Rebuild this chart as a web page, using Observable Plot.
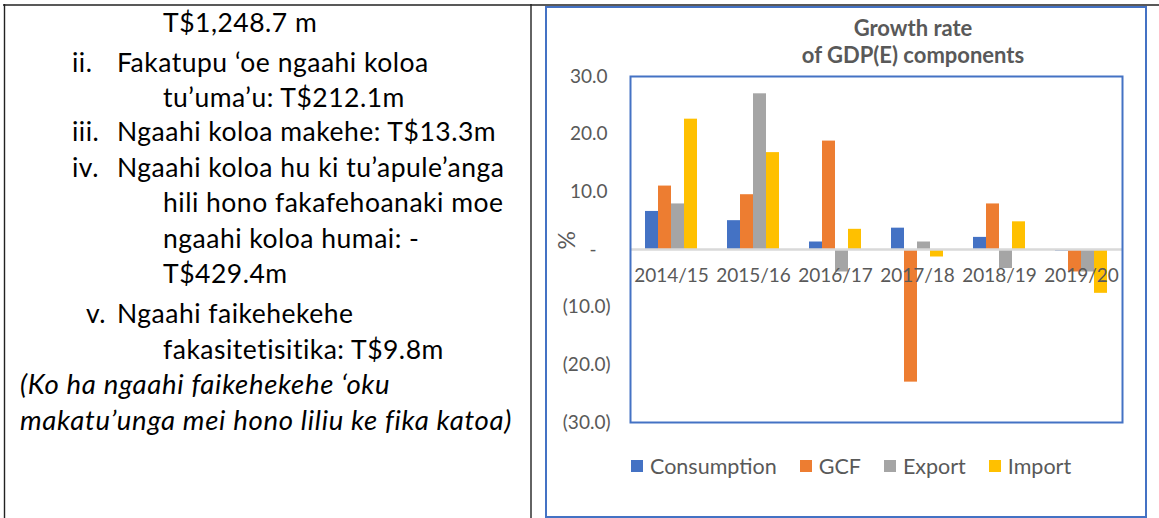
<!DOCTYPE html>
<html><head><meta charset="utf-8">
<script src="https://cdn.jsdelivr.net/npm/d3@7"></script>
<script src="https://cdn.jsdelivr.net/npm/@observablehq/plot@0.6"></script>
<style>
html,body{margin:0;padding:0;background:#fff;}
body{position:relative;width:1159px;height:518px;overflow:hidden;font-family:Lato,"Noto Sans",sans-serif;}
#doc{position:absolute;left:0;top:0;}
#box{position:absolute;left:545px;top:6px;width:602px;height:512px;box-sizing:border-box;border:2px solid #4472C4;}
#title{position:absolute;left:713px;width:400px;top:14px;text-align:center;font-weight:bold;font-size:22px;line-height:27px;color:#595959;}
#chart{position:absolute;left:546px;top:8px;}
#legend{position:absolute;left:631px;top:455px;display:flex;align-items:center;font-size:21.5px;color:#595959;line-height:22px;}
#legend .it{display:flex;align-items:center;margin-right:23px;}
#legend .sw{width:12px;height:12px;margin-right:7px;}
</style>
</head><body>
<svg id="doc" width="1159" height="518" font-family="Lato" font-size="26.5" letter-spacing="0.5">
  <line x1="3" y1="5" x2="1159" y2="5" stroke="#222" stroke-width="1.6"/>
  <line x1="4.5" y1="4" x2="4.5" y2="518" stroke="#222" stroke-width="1.4"/>
  <line x1="531" y1="4" x2="531" y2="518" stroke="#222" stroke-width="1.4"/>
  <text x="163" y="32">T$1,248.7 m</text>
  <text x="72" y="72">ii.</text><text x="117" y="72">Fakatupu ‘oe ngaahi koloa</text>
  <text x="163" y="107">tu’uma’u: T$212.1m</text>
  <text x="72" y="141">iii.</text><text x="117" y="141">Ngaahi koloa makehe: T$13.3m</text>
  <text x="72" y="177">iv.</text><text x="117" y="177">Ngaahi koloa hu ki tu’apule’anga</text>
  <text x="163" y="212">hili hono fakafehoanaki moe</text>
  <text x="163" y="248">ngaahi koloa humai: -</text>
  <text x="163" y="283">T$429.4m</text>
  <text x="86" y="323">v.</text><text x="117" y="323">Ngaahi faikehekehe</text>
  <text x="163" y="359">fakasitetisitika: T$9.8m</text>
  <text x="20" y="394" font-style="italic" font-size="27.5" letter-spacing="0.7">(Ko ha ngaahi faikehekehe ‘oku</text>
  <text x="20" y="430" font-style="italic" font-size="27.5" letter-spacing="0.7">makatu’unga mei hono liliu ke fika katoa)</text>
</svg>
<div id="box"></div>
<div id="title">Growth rate<br>of GDP(E) components</div>
<div id="chart"></div>
<div id="legend"></div>
<script>
const years = ["2014/15","2015/16","2016/17","2017/18","2018/19","2019/20"];
const series = ["Consumption","GCF","Export","Import"];
const consumption = [6.6, 5.0, 1.3, 3.7, 2.1, -0.3];
const gcf = [11.0, 9.5, 18.8, -23.0, 7.9, -3.9];
const exportVals = [7.9, 27.0, -3.9, 1.3, -3.3, -3.9];
const importVals = [22.6, 16.8, 3.5, -1.3, 4.8, -7.6];
const posTicks = [10, 20, 30];
const negTicks = [-10, -20, -30];
const zeroTick = [0];
const colors = ["#4472C4", "#ED7D31", "#A5A5A5", "#FFC000"];

const valuesBySeries = [consumption, gcf, exportVals, importVals];
const data = [];
years.forEach((yr, i) => series.forEach((s, j) => data.push({year: yr, series: s, value: valuesBySeries[j][i]})));

const txt = "#595959";
const chart = Plot.plot({
  width: 600, height: 440,
  marginLeft: 84, marginRight: 24, marginTop: 68, marginBottom: 26,
  style: {fontFamily: "Lato", background: "transparent", overflow: "visible"},
  fx: {domain: years, padding: 0, axis: null},
  x: {domain: series, paddingInner: 0, paddingOuter: 1.09, axis: null},
  y: {domain: [-30, 30], label: null},
  color: {domain: series, range: colors},
  marks: [
    Plot.barY(data, {fx: "year", x: "series", y: "value", fill: "series"}),
    Plot.ruleY([0], {stroke: "#D9D9D9", strokeWidth: 2.5}),
    Plot.text(years, {fx: d => d, y: () => 0, text: d => d, dy: 26, fontSize: 19, fill: txt}),
    Plot.axisY(posTicks, {tickSize: 0, tickPadding: 23, tickFormat: d => d.toFixed(1), fontSize: 19, color: txt, label: null}),
    Plot.axisY(negTicks, {tickSize: 0, tickPadding: 20, tickFormat: d => `(${(-d).toFixed(1)})`, fontSize: 19, color: txt, label: null}),
    Plot.axisY(zeroTick, {tickSize: 0, tickPadding: 34, tickFormat: () => "-", fontSize: 19, color: txt, label: null}),
    Plot.text(["%"], {fx: [years[0]], frameAnchor: "left", rotate: -90, dx: -63, fontSize: 23, fill: txt}),
    Plot.frame({stroke: "#4472C4", strokeWidth: 2, facet: "super"})
  ]
});
document.getElementById("chart").appendChild(chart);

const leg = document.getElementById("legend");
series.forEach((s, i) => {
  const it = document.createElement("div"); it.className = "it";
  const sw = document.createElement("div"); sw.className = "sw"; sw.style.background = colors[i];
  const t = document.createElement("span"); t.textContent = s;
  it.appendChild(sw); it.appendChild(t); leg.appendChild(it);
});
</script>
</body></html>
